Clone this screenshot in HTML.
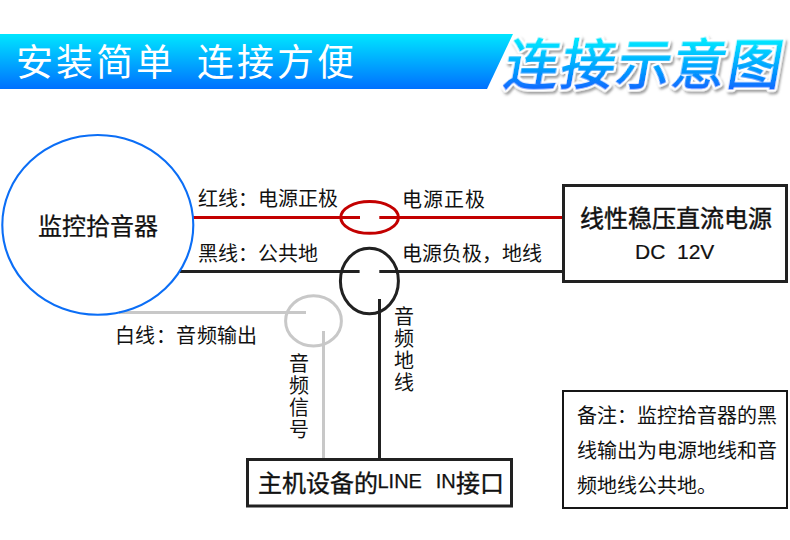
<!DOCTYPE html>
<html lang="zh-CN">
<head>
<meta charset="utf-8">
<style>
html,body{margin:0;padding:0;background:#fff;}
body{width:790px;height:540px;position:relative;overflow:hidden;font-family:"Liberation Sans",sans-serif;color:#111;}
.t{position:absolute;white-space:nowrap;line-height:1;}
svg{position:absolute;left:0;top:0;}
.v{position:absolute;width:22px;text-align:center;line-height:22px;font-size:20px;}
</style>
</head>
<body>
<svg width="790" height="540" viewBox="0 0 790 540">
  <defs>
    <linearGradient id="bg" x1="0" y1="0" x2="0" y2="1">
      <stop offset="0" stop-color="#00e6ff"/>
      <stop offset="1" stop-color="#0070ff"/>
    </linearGradient>
  </defs>
  <polygon points="0,34 513,34 487,89 0,89" fill="url(#bg)"/>
  <!-- red -->
  <line x1="193" y1="217.5" x2="360" y2="217.5" stroke="#c30000" stroke-width="3"/>
  <line x1="379.3" y1="217.5" x2="563" y2="217.5" stroke="#c30000" stroke-width="3"/>
  <ellipse cx="369.6" cy="217.45" rx="28.8" ry="15.9" fill="none" stroke="#c30000" stroke-width="3"/>
  <!-- black -->
  <line x1="180" y1="271.5" x2="359.6" y2="271.5" stroke="#212121" stroke-width="3"/>
  <line x1="379.3" y1="271.5" x2="563" y2="271.5" stroke="#212121" stroke-width="3"/>
  <ellipse cx="369.4" cy="281" rx="29" ry="32.8" fill="none" stroke="#212121" stroke-width="3"/>
  <line x1="379.5" y1="299" x2="379.5" y2="459" stroke="#212121" stroke-width="3"/>
  <!-- gray -->
  <line x1="119" y1="312.5" x2="306" y2="312.5" stroke="#c8c8c8" stroke-width="3"/>
  <ellipse cx="313.5" cy="320.9" rx="27.9" ry="25.2" fill="none" stroke="#c8c8c8" stroke-width="3"/>
  <line x1="323.5" y1="331" x2="323.5" y2="459" stroke="#c8c8c8" stroke-width="3"/>
  <!-- big ellipse -->
  <ellipse cx="97.8" cy="224.9" rx="95.5" ry="89.9" fill="none" stroke="#0b6ef6" stroke-width="2.1"/>
  <!-- boxes -->
  <rect x="563.5" y="185.5" width="223" height="96" fill="none" stroke="#212121" stroke-width="3"/>
  <rect x="247.5" y="459.5" width="264" height="46.5" fill="none" stroke="#212121" stroke-width="3"/>
  <rect x="563" y="391" width="224" height="117" fill="none" stroke="#161616" stroke-width="2"/>
</svg>


<svg width="790" height="540" viewBox="0 0 790 540" style="position:absolute;left:0;top:0;">
  <defs>
    <linearGradient id="tg" gradientUnits="userSpaceOnUse" x1="0" y1="40" x2="0" y2="88">
      <stop offset="0" stop-color="#00e8ff"/>
      <stop offset="0.5" stop-color="#00acff"/>
      <stop offset="1" stop-color="#0a6cff"/>
    </linearGradient>
    <filter id="sh" x="-10%" y="-20%" width="130%" height="160%">
      <feDropShadow dx="2" dy="2.5" stdDeviation="1.1" flood-color="#555" flood-opacity="0.55"/>
    </filter>
  </defs>
  <g transform="translate(0,86) skewX(-10) translate(0,-86)" filter="url(#sh)" style="font-family:'Liberation Sans',sans-serif;" font-size="54" letter-spacing="2.1">
    <text x="502.3" y="83.8" fill="#fff" stroke="#fff" stroke-width="6" stroke-linejoin="round">连接示意图</text>
    <text x="502.3" y="83.8" fill="url(#tg)" stroke="url(#tg)" stroke-width="1.4">连接示意图</text>
  </g>
</svg>
<div class="t" style="left:16px;top:45px;font-size:37px;color:#fff;letter-spacing:3px;">安装简单</div>
<div class="t" style="left:196.5px;top:45px;font-size:37px;color:#fff;letter-spacing:3px;">连接方便</div>

<div class="t" style="left:37.5px;top:215px;font-size:24px;-webkit-text-stroke:0.25px #111;">监控拾音器</div>
<div class="t" style="left:198px;top:188.7px;font-size:20px;">红线：电源正极</div>
<div class="t" style="left:197.5px;top:244px;font-size:20px;">黑线：公共地</div>
<div class="t" style="left:402px;top:189.5px;font-size:20px;letter-spacing:1px;">电源正极</div>
<div class="t" style="left:402px;top:243.5px;font-size:20px;">电源负极，地线</div>
<div class="t" style="left:115px;top:325.8px;font-size:20px;letter-spacing:0.4px;">白线：音频输出</div>
<div class="v" style="left:288px;top:353px;">音<br>频<br>信<br>号</div>
<div class="v" style="left:393px;top:306px;">音<br>频<br>地<br>线</div>
<div class="t" style="left:580px;top:206.5px;font-size:24px;-webkit-text-stroke:0.45px #111;">线性稳压直流电源</div>
<div class="t" style="left:635px;top:241px;font-size:21px;word-spacing:0px;-webkit-text-stroke:0.2px #111;">DC&nbsp; 12V</div>
<div class="t" style="left:257.5px;top:472px;font-size:24px;-webkit-text-stroke:0.35px #111;">主机设备的<span style="font-size:20px;position:relative;top:-4px;-webkit-text-stroke:0.25px #111;word-spacing:1.3px;">LINE&nbsp; IN</span>接口</div>
<div class="t" style="left:576.5px;top:399.2px;font-size:20px;line-height:34.8px;">备注：监控拾音器的黑<br>线输出为电源地线和音<br>频地线公共地。</div>
</body>
</html>
